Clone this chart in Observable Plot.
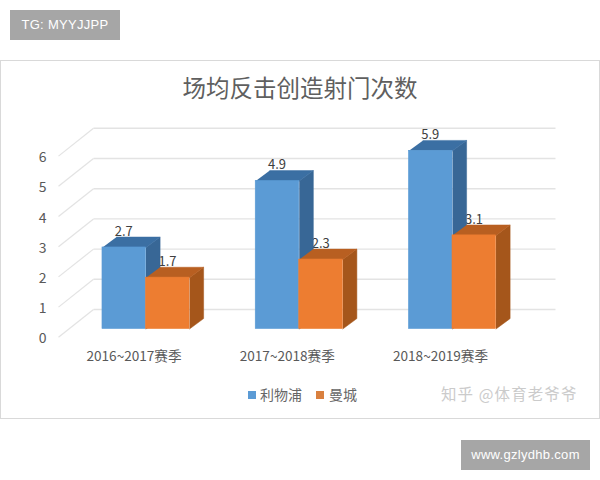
<!DOCTYPE html>
<html>
<head>
<meta charset="utf-8">
<script src="https://cdn.jsdelivr.net/npm/d3@7"></script>
<script src="https://cdn.jsdelivr.net/npm/@observablehq/plot@0.6"></script>
<style>
  html, body { margin: 0; padding: 0; background: #fff; width: 600px; height: 480px; overflow: hidden; }
  body { position: relative; font-family: "Noto Sans CJK SC", "Noto Sans", sans-serif; color: #595959; }
  #chart { position: absolute; left: 0; top: 0; }
  .abs { position: absolute; white-space: nowrap; }
  #frame { left: 0; top: 60px; width: 598px; height: 357px; border: 1.5px solid #d9d9d9; }
  #title { left: 0; width: 600px; top: 70px; text-align: center; font-size: 23.5px; line-height: 34px; color: #5f5f5f; }
  .tag { background: #a6a6a6; color: #fff; text-align: center; font-family: "Liberation Sans", sans-serif; }
  #tg { left: 10px; top: 10px; width: 110px; height: 30px; line-height: 30px; font-size: 13px; letter-spacing: .3px; }
  #www { left: 461px; top: 440px; width: 129px; height: 30px; line-height: 29px; font-size: 13px; letter-spacing: .3px; }
  .sw { width: 8px; height: 8px; top: 391px; }
  .lg { top: 384px; font-size: 14px; line-height: 20px; color: #666; }
  #mark { left: 441px; top: 382px; font-size: 15.5px; line-height: 22px; color: #cbcbcb; letter-spacing: 1.1px; }
</style>
</head>
<body>
<div id="chart"></div>
<div class="abs" id="frame"></div>
<div class="abs" id="title">场均反击创造射门次数</div>
<div class="abs tag" id="tg">TG: MYYJJPP</div>
<div class="abs tag" id="www">www.gzlydhb.com</div>
<div class="abs sw" style="left:248px;background:#5b9bd5"></div>
<div class="abs lg" style="left:260px">利物浦</div>
<div class="abs sw" style="left:316px;background:#d9803f"></div>
<div class="abs lg" style="left:329px">曼城</div>
<div class="abs" id="mark">知乎 @体育老爷爷</div>
<script>
const seasons = ["2016~2017赛季", "2017~2018赛季", "2018~2019赛季"];
const liverpool = [2.7, 4.9, 5.9];
const manCity = [1.7, 2.3, 3.1];
const yTicks = [0, 1, 2, 3, 4, 5, 6];

// 3D projection offsets, in scale units
const barW = 0.284, depthX = 0.092, depthY = 0.345;
const wallX = -0.3426, wallY = 0.645, frontX = -0.571, frontY = -0.275, wallEnd = 2.672;

function faces(values, x0) {
  const front = [], side = [], top = [];
  values.forEach((v, i) => {
    const l = i + x0, r = l + barW;
    front.push({x1: l, x2: r, y: v});
    [[r, 0], [r + depthX, depthY], [r + depthX, v + depthY], [r, v]]
      .forEach(([x, y]) => side.push({x, y, z: i}));
    [[l, v], [r, v], [r + depthX, v + depthY], [l + depthX, v + depthY]]
      .forEach(([x, y]) => top.push({x, y, z: i}));
  });
  return {front, side, top};
}
function bars(values, x0, cFront, cSide, cTop) {
  const f = faces(values, x0);
  return [
    Plot.line(f.side, {x: "x", y: "y", z: "z", fill: cSide, stroke: cSide, strokeWidth: 0.5}),
    Plot.line(f.top, {x: "x", y: "y", z: "z", fill: cTop, stroke: cTop, strokeWidth: 0.5}),
    Plot.rectY(f.front, {x1: "x1", x2: "x2", y: "y", fill: cFront, stroke: cFront, strokeWidth: 0.6, inset: 0})
  ];
}
const labelStyle = {text: d => d.v.toFixed(1), fontSize: 13, fill: "#404040", dy: -16};
const lp = liverpool.map((v, i) => ({x: i - 0.145, y: v, v}));
const mc = manCity.map((v, i) => ({x: i + 0.14, y: v, v}));

const plot = Plot.plot({
  width: 600, height: 480,
  marginLeft: 46, marginBottom: 133, marginTop: 0, marginRight: 0,
  style: {background: "transparent", fontFamily: '"Noto Sans CJK SC", "Noto Sans", sans-serif'},
  x: {type: "linear", domain: [0, 2], range: [145.5, 452], axis: null},
  y: {type: "linear", domain: [0, 6], range: [328.5, 147.3], axis: null},
  marks: [
    Plot.link(yTicks, {x1: wallX, x2: wallEnd, y1: d => d + wallY, y2: d => d + wallY, stroke: "#e3e3e3", strokeWidth: 1.4}),
    Plot.link(yTicks, {x1: frontX, x2: wallX, y1: d => d + frontY, y2: d => d + wallY, stroke: "#e3e3e3", strokeWidth: 1.2}),
    Plot.axisY({ticks: yTicks, tickSize: 0, tickPadding: 0, dy: 10, label: null, fontSize: 14, color: "#595959", tickFormat: d => d}),
    Plot.axisX({ticks: [0, 1, 2], tickSize: 0, tickPadding: 0, dx: -12, label: null, fontSize: 13.6, color: "#595959", tickFormat: i => seasons[i], lineAnchor: "middle", dy: 9}),
    Plot.text(mc, {x: "x", y: "y", ...labelStyle}),
    ...bars(liverpool, -0.284, "#5b9bd5", "#386796", "#3b6fa3"),
    Plot.text(lp, {x: "x", y: "y", ...labelStyle}),
    ...bars(manCity, 0, "#ed7d31", "#a5561b", "#b85f21")
  ]
});
document.getElementById("chart").append(plot);
</script>
</body>
</html>
